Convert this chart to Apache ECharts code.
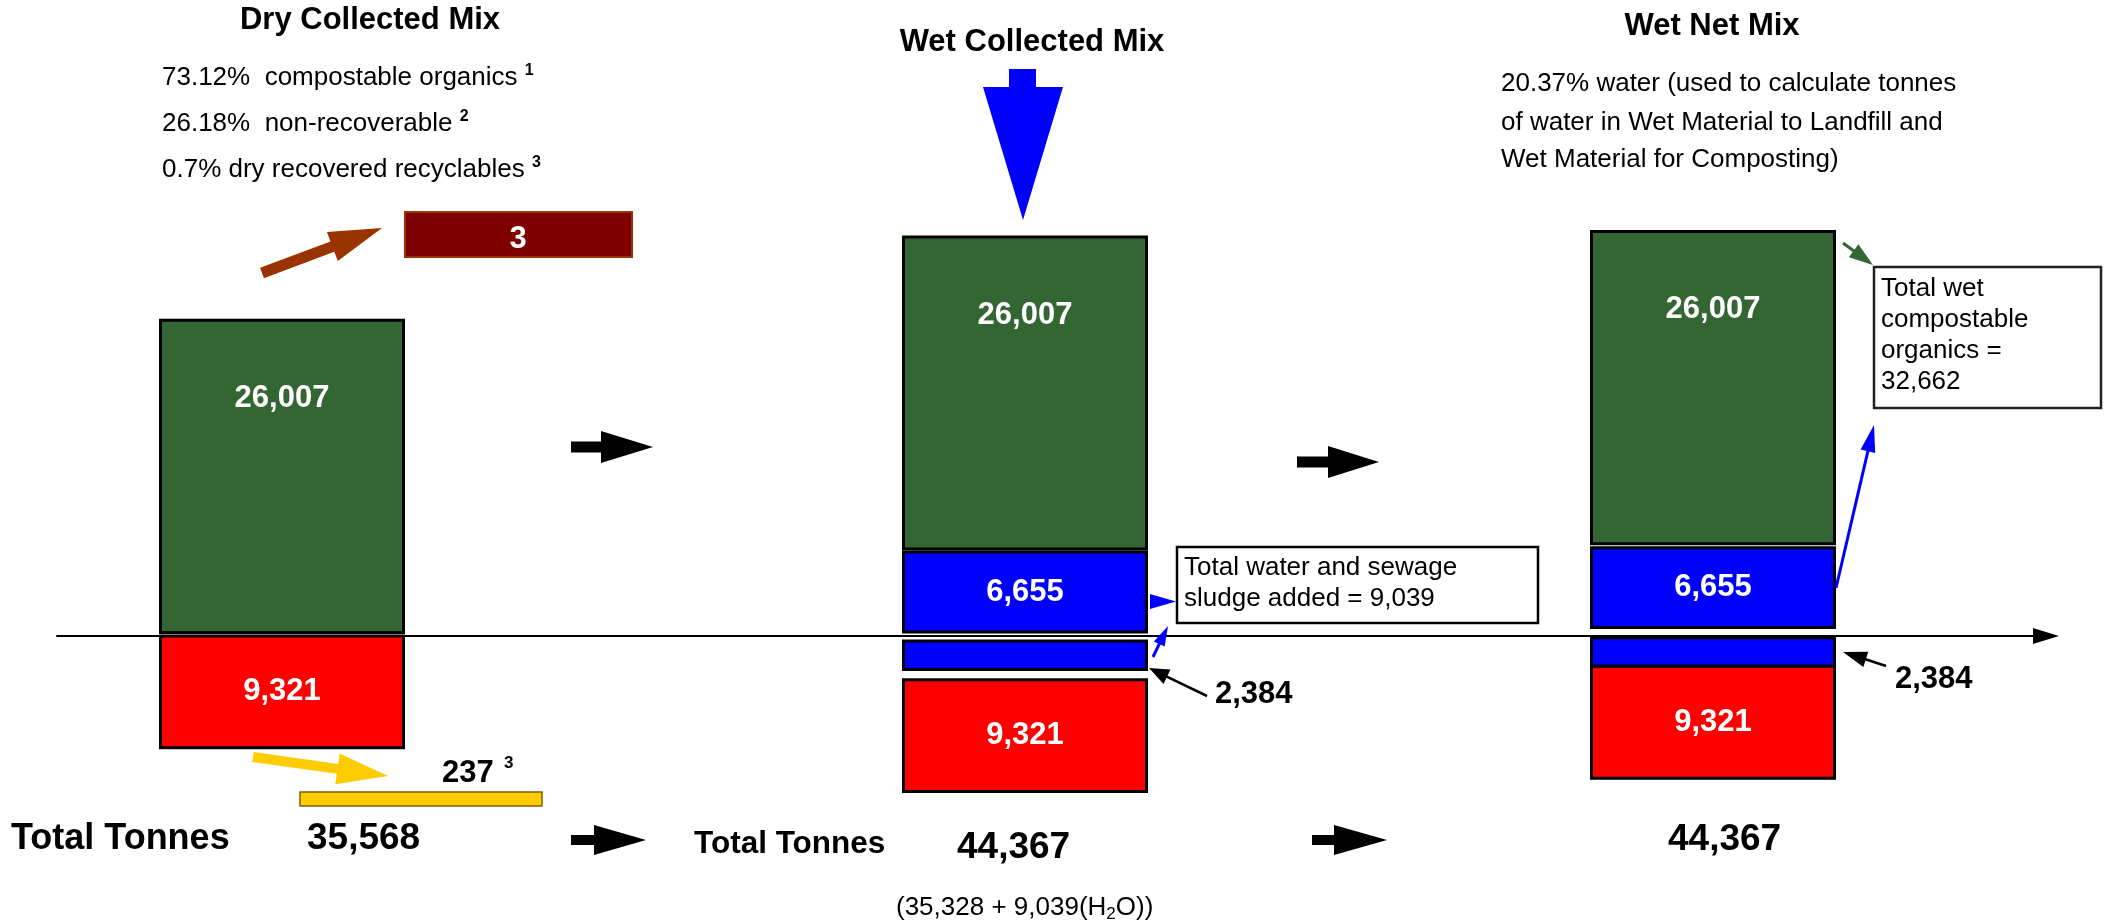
<!DOCTYPE html>
<html>
<head>
<meta charset="utf-8">
<script src="https://cdn.jsdelivr.net/npm/echarts@6/dist/echarts.min.js"></script>
<style>html,body{margin:0;padding:0;background:#fff}#c{width:2105px;height:924px}</style>
</head>
<body>
<div id="c"></div>
<script>
// ---------------- DATA (tonnes) ----------------
const stages = ['Dry Collected Mix', 'Wet Collected Mix', 'Wet Net Mix'];
const compostableOrganics = [26007, 26007, 26007];
const waterWithOrganics = [null, 6655, 6655];
const waterWithResidue = [null, 2384, 2384];
const nonRecoverable = [9321, 9321, 9321];
const totalTonnes = [35568, 44367, 44367];
const recoveredRecyclables = [3, 237];
const dryNetTonnes = 35328;
const waterAdded = 9039;
const wetCompostable = 32662;
const dryShares = ['73.12%', '26.18%', '0.7%'];
const wetNetWaterShare = '20.37%';

// ---------------- LAYOUT / STYLE ----------------
const FONT = "'Liberation Sans', Arial, Helvetica, sans-serif";
const stageX = [282, 1025, 1713];          // column centres (x axis units = px)
const barWidth = 243;
const stageTop = [26307, 33250, 33700];    // value at top of each column
const stageGaps = [[300], [250, 750, 850], [330, 850, 0]];
const KINDS = [
  { color: '#336633', label: true },   // compostable organics
  { color: '#0000FF', label: true },   // water with organics
  { color: '#0000FF', label: false },  // water with residue
  { color: '#FF0000', label: true }    // non-recoverable
];
const fmt = n => Number(n).toLocaleString('en-US');

// build segments
const segs = [];
stages.forEach((s, i) => {
  const parts = [
    [compostableOrganics[i], 0],
    [waterWithOrganics[i], 1],
    [waterWithResidue[i], 2],
    [nonRecoverable[i], 3]
  ].filter(p => p[0] != null);
  let cur = stageTop[i];
  parts.forEach((p, j) => {
    segs.push([stageX[i], cur, cur - p[0], p[0], p[1]]);
    cur = cur - p[0] - (stageGaps[i][j] || 0);
  });
});

function renderItem(params, api) {
  const x = api.value(0), v0 = api.value(1), v1 = api.value(2), val = api.value(3), kind = api.value(4);
  const top = api.coord([x, v0]), bot = api.coord([x, v1]);
  const w = api.size([barWidth, 0])[0];
  const h = bot[1] - top[1];
  const k = KINDS[kind];
  const children = [{
    type: 'rect',
    shape: { x: top[0] - w / 2, y: top[1], width: w, height: h },
    style: { fill: k.color, stroke: '#000', lineWidth: 3 }
  }];
  if (k.label) {
    const ly = kind === 0 ? top[1] + h * 0.25 : top[1] + h / 2;
    children.push({
      type: 'text',
      style: { text: fmt(val), x: top[0], y: ly, fill: '#fff', font: 'bold 31px ' + FONT, align: 'center', verticalAlign: 'middle' }
    });
  }
  return { type: 'group', children };
}

// ---------------- helpers for annotations ----------------
function T(text, x, baseline, size, o) {
  o = o || {};
  return { type: 'text', z: 10, style: {
    text, x, y: baseline - 0.35 * size,
    font: (o.bold ? 'bold ' : '') + size + 'px ' + FONT,
    fill: o.color || '#000', align: o.align || 'left', verticalAlign: 'middle'
  }};
}
function RT(parts, x, baseline, size) {
  const esc = s => s.replace(/([{}|])/g, '');
  return { type: 'text', z: 10, style: {
    text: parts.map(p => '{' + p[1] + '|' + esc(p[0]) + '}').join(''),
    x, y: baseline - 0.35 * size, align: 'left', verticalAlign: 'middle',
    rich: {
      a: { fontSize: size, fontFamily: FONT, fill: '#000', lineHeight: 30 },
      sup: { fontSize: 16, fontWeight: 'bold', fontFamily: FONT, fill: '#000', lineHeight: 16, verticalAlign: 'top' },
      sub: { fontSize: 17, fontFamily: FONT, fill: '#000', lineHeight: 17, verticalAlign: 'bottom' }
    }
  }};
}
function blockArrow(tail, tip, shaftW, headL, headW, color) {
  const dx = tip[0] - tail[0], dy = tip[1] - tail[1], L = Math.hypot(dx, dy);
  const ux = dx / L, uy = dy / L, nx = -uy, ny = ux;
  const bx = tip[0] - ux * headL, by = tip[1] - uy * headL;
  return { type: 'polygon', z: 10, shape: { points: [
    [tail[0] + nx * shaftW / 2, tail[1] + ny * shaftW / 2],
    [bx + nx * shaftW / 2, by + ny * shaftW / 2],
    [bx + nx * headW / 2, by + ny * headW / 2],
    tip,
    [bx - nx * headW / 2, by - ny * headW / 2],
    [bx - nx * shaftW / 2, by - ny * shaftW / 2],
    [tail[0] - nx * shaftW / 2, tail[1] - ny * shaftW / 2]
  ]}, style: { fill: color } };
}
function lineArrow(tail, tip, lw, headL, headW, color) {
  const dx = tip[0] - tail[0], dy = tip[1] - tail[1], L = Math.hypot(dx, dy);
  const ux = dx / L, uy = dy / L, nx = -uy, ny = ux;
  const bx = tip[0] - ux * headL, by = tip[1] - uy * headL;
  return [
    { type: 'line', z: 10, shape: { x1: tail[0], y1: tail[1], x2: bx + ux * 2, y2: by + uy * 2 }, style: { stroke: color, lineWidth: lw } },
    { type: 'polygon', z: 10, shape: { points: [tip, [bx + nx * headW / 2, by + ny * headW / 2], [bx - nx * headW / 2, by - ny * headW / 2]] }, style: { fill: color } }
  ];
}
function box(x, y, w, h, fill, stroke, lw) {
  return { type: 'rect', z: 9, shape: { x, y, width: w, height: h }, style: { fill, stroke, lineWidth: lw } };
}

const G = [].concat(
  // titles
  T(stages[0], 370, 31, 31, { bold: true, align: 'center' }),
  T(stages[1], 1032, 53, 31, { bold: true, align: 'center' }),
  T(stages[2], 1712, 37, 31, { bold: true, align: 'center' }),
  // dry notes
  RT([[dryShares[0] + '  compostable organics ', 'a'], ['1', 'sup']], 162, 87, 26),
  RT([[dryShares[1] + '  non-recoverable ', 'a'], ['2', 'sup']], 162, 133, 26),
  RT([[dryShares[2] + ' dry recovered recyclables ', 'a'], ['3', 'sup']], 162, 179, 26),
  // wet net notes
  T(wetNetWaterShare + ' water (used to calculate tonnes', 1501, 93, 26),
  T('of water in Wet Material to Landfill and', 1501, 132, 26),
  T('Wet Material for Composting)', 1501, 169, 26),
  // recyclables box
  blockArrow([262, 273], [382, 228], 11, 53, 31, '#993300'),
  box(405, 212, 227, 45, '#800000', '#993300', 2),
  T(fmt(recoveredRecyclables[0]), 518, 250, 31, { bold: true, color: '#fff', align: 'center' }),
  // recovered from residue
  blockArrow([253, 757], [388, 776], 10, 51, 31, '#FFCC00'),
  box(300, 792, 242, 14, '#FFCC00', '#7F6000', 1.5),
  T(fmt(recoveredRecyclables[1]), 442, 784, 31, { bold: true }),
  T('3', 504, 769, 17, { bold: true }),
  // flow arrows
  blockArrow([571, 447], [653, 447], 11, 52, 32, '#000'),
  blockArrow([1297, 462], [1379, 462], 11, 51, 32, '#000'),
  blockArrow([571, 840], [646, 840], 10, 52, 30, '#000'),
  blockArrow([1312, 840], [1387, 840], 10, 53, 30, '#000'),
  // blue water arrow
  { type: 'polygon', z: 10, shape: { points: [[1009, 69], [1036, 69], [1036, 87], [1063, 87], [1023, 220], [983, 87], [1009, 87]] }, style: { fill: '#0000FF' } },
  // water box
  box(1177, 547, 361, 76, '#fff', '#000', 2.5),
  T('Total water and sewage', 1184, 577, 26),
  T('sludge added = ' + fmt(waterAdded), 1184, 608, 26),
  { type: 'polygon', z: 10, shape: { points: [[1150, 594], [1176, 601.5], [1150, 609]] }, style: { fill: '#0000FF' } },
  lineArrow([1153, 657], [1168, 626], 3, 20, 12, '#0000FF'),
  lineArrow([1207, 696], [1149, 668], 2.5, 20, 16, '#000'),
  T(fmt(waterWithResidue[1]), 1215, 705, 31, { bold: true }),
  // wet net callouts
  box(1874, 267, 227, 141, '#fff', '#222', 2.5),
  T('Total wet', 1881, 298, 26),
  T('compostable', 1881, 329, 26),
  T('organics =', 1881, 360, 26),
  T(fmt(wetCompostable), 1881, 391, 26),
  lineArrow([1843, 243], [1873, 265], 3, 24, 16, '#336633'),
  lineArrow([1836, 588], [1874, 425], 3, 27, 15, '#0000FF'),
  lineArrow([1886, 666], [1843, 652], 2.5, 24, 16, '#000'),
  T(fmt(waterWithResidue[2]), 1895, 690, 31, { bold: true }),
  // totals row
  T('Total Tonnes', 11, 852, 36, { bold: true }),
  T(fmt(totalTonnes[0]), 307, 852, 37, { bold: true }),
  T('Total Tonnes', 694, 855, 31.5, { bold: true }),
  T(fmt(totalTonnes[1]), 957, 861, 37, { bold: true }),
  T(fmt(totalTonnes[2]), 1668, 853, 37, { bold: true }),
  RT([['(' + fmt(dryNetTonnes) + ' + ' + fmt(waterAdded) + '(H', 'a'], ['2', 'sub'], ['O))', 'a']], 896, 917, 26)
);

const chart = echarts.init(document.getElementById('c'), null, { renderer: 'canvas' });
chart.setOption({
  animation: false,
  backgroundColor: '#fff',
  grid: { left: 57, right: 59, top: 0, bottom: 0, containLabel: false },
  xAxis: {
    type: 'value', min: 57, max: 2046,
    axisLine: { show: true, onZero: true, symbol: ['none', 'triangle'], symbolSize: [16, 26], lineStyle: { color: '#000', width: 2 } },
    axisTick: { show: false }, axisLabel: { show: false }, splitLine: { show: false }
  },
  yAxis: { type: 'value', min: -24000, max: 53000, show: false },
  series: [{ type: 'custom', renderItem, data: segs, encode: { x: 0, y: [1, 2] }, clip: false, z: 3 }],
  graphic: { elements: G }
});
</script>
</body>
</html>
